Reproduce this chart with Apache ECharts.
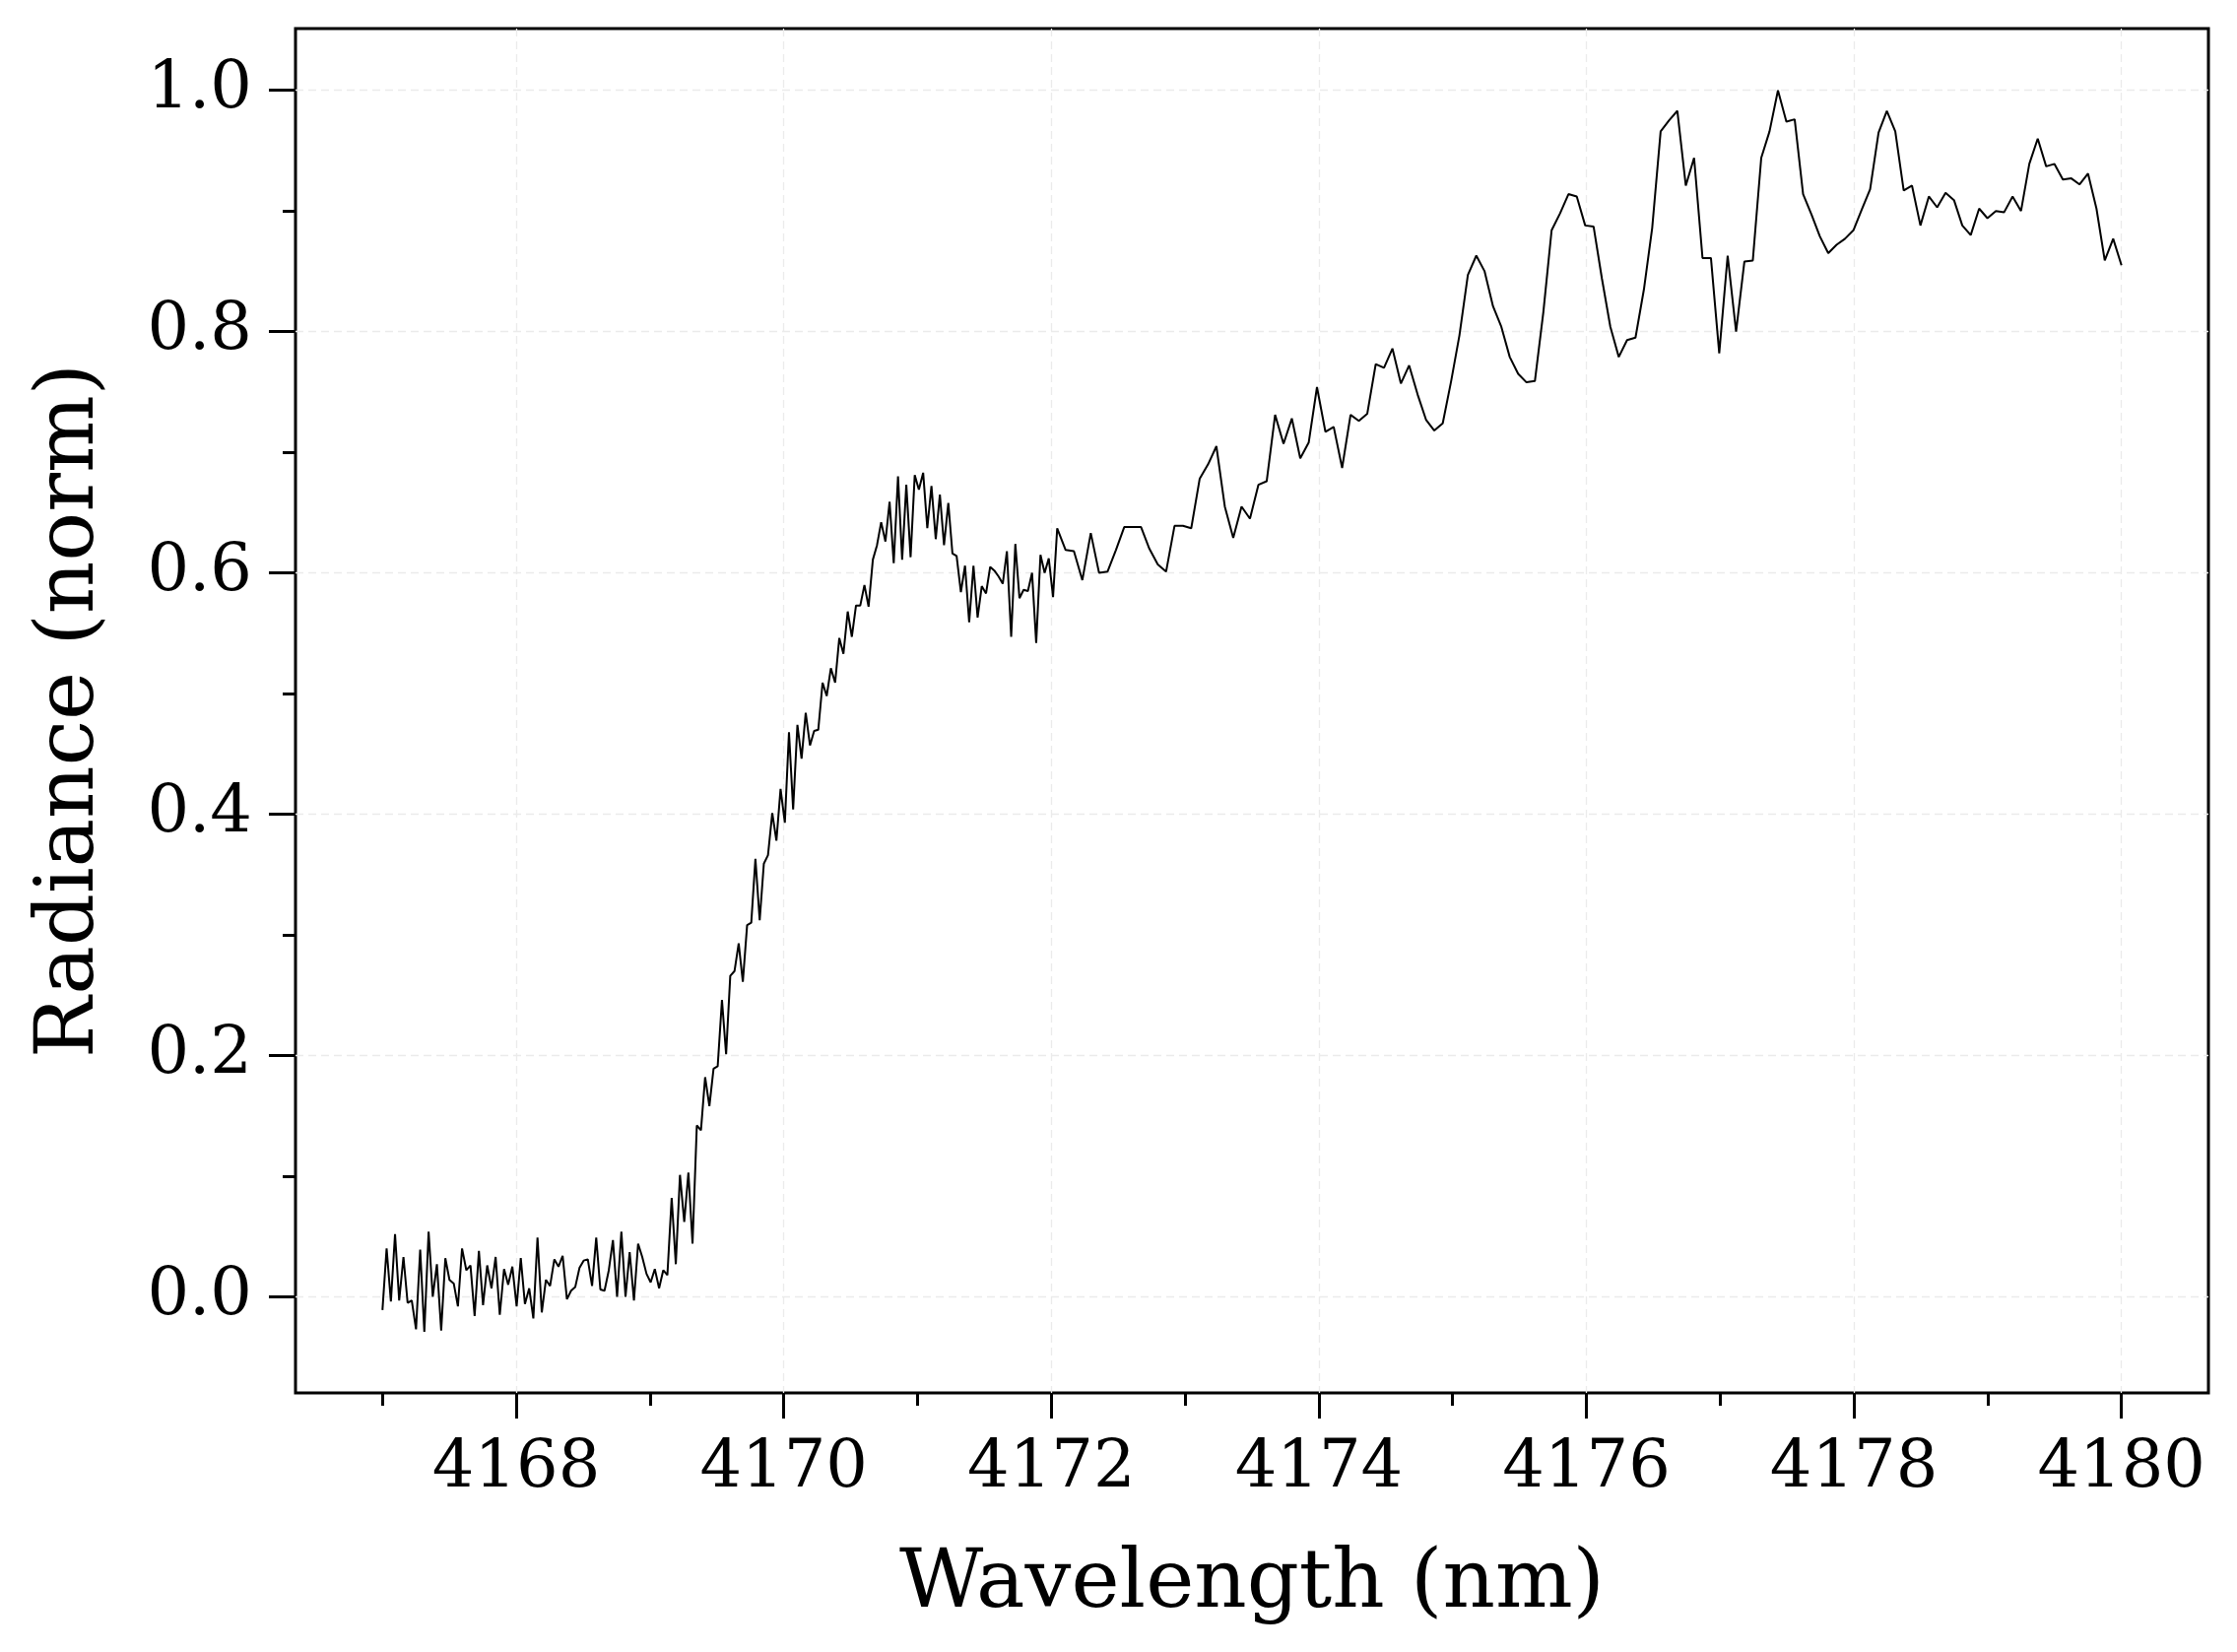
<!DOCTYPE html>
<html><head><meta charset="utf-8">
<script src="https://cdn.jsdelivr.net/npm/echarts@6/dist/echarts.min.js"></script>
<style>html,body{margin:0;padding:0;background:#fff}#c{width:2271px;height:1677px}</style>
</head><body><div id="c"></div>
<script>
const wavelength = [
4167.000,4167.031,4167.063,4167.094,4167.125,4167.157,4167.188,4167.219,4167.251,4167.282,
4167.313,4167.345,4167.376,4167.407,4167.439,4167.470,4167.501,4167.533,4167.564,4167.595,
4167.627,4167.658,4167.689,4167.721,4167.752,4167.783,4167.815,4167.846,4167.877,4167.909,
4167.940,4167.971,4168.003,4168.034,4168.065,4168.097,4168.128,4168.159,4168.191,4168.222,
4168.253,4168.285,4168.316,4168.347,4168.379,4168.410,4168.441,4168.473,4168.504,4168.535,
4168.567,4168.598,4168.629,4168.660,4168.692,4168.723,4168.754,4168.786,4168.817,4168.848,
4168.880,4168.911,4168.942,4168.974,4169.005,4169.036,4169.068,4169.099,4169.130,4169.162,
4169.193,4169.224,4169.256,4169.287,4169.318,4169.350,4169.381,4169.412,4169.444,4169.475,
4169.506,4169.538,4169.569,4169.600,4169.632,4169.663,4169.694,4169.726,4169.757,4169.788,
4169.820,4169.851,4169.882,4169.914,4169.945,4169.976,4170.008,4170.039,4170.070,4170.102,
4170.133,4170.164,4170.196,4170.227,4170.258,4170.290,4170.321,4170.352,4170.384,4170.415,
4170.446,4170.478,4170.509,4170.540,4170.572,4170.603,4170.634,4170.666,4170.697,4170.728,
4170.760,4170.791,4170.822,4170.854,4170.885,4170.916,4170.948,4170.979,4171.010,4171.042,
4171.073,4171.104,4171.136,4171.167,4171.198,4171.230,4171.261,4171.292,4171.324,4171.355,
4171.386,4171.418,4171.449,4171.480,4171.512,4171.543,4171.574,4171.606,4171.637,4171.668,
4171.700,4171.731,4171.762,4171.793,4171.825,4171.856,4171.887,4171.919,4171.950,4171.981,
4172.013,4172.044,
4172.107,4172.169,4172.232,4172.295,4172.357,4172.420,4172.483,4172.545,4172.608,4172.671,
4172.733,4172.796,4172.858,4172.921,4172.984,4173.046,4173.109,4173.172,4173.234,4173.297,
4173.360,4173.422,4173.485,4173.548,4173.610,4173.673,4173.736,4173.798,4173.861,4173.924,
4173.986,4174.049,4174.111,4174.174,4174.237,4174.299,4174.362,4174.425,4174.487,4174.550,
4174.613,4174.675,4174.738,4174.801,4174.863,4174.926,4174.989,4175.051,4175.114,4175.177,
4175.239,4175.302,4175.364,4175.427,4175.490,4175.552,4175.615,4175.678,4175.740,4175.803,
4175.866,4175.928,4175.991,4176.054,4176.116,4176.179,4176.242,4176.304,4176.367,4176.430,
4176.492,4176.555,4176.617,4176.680,4176.743,4176.805,4176.868,4176.931,4176.993,4177.056,
4177.119,4177.181,4177.244,4177.307,4177.369,4177.432,4177.495,4177.557,4177.620,4177.683,
4177.745,4177.808,4177.870,4177.933,4177.996,4178.058,4178.121,4178.184,4178.246,4178.309,
4178.372,4178.434,4178.497,4178.560,4178.622,4178.685,4178.748,4178.810,4178.873,4178.936,
4178.998,4179.061,4179.123,4179.186,4179.249,4179.311,4179.374,4179.437,4179.499,4179.562,
4179.625,4179.687,4179.750,4179.813,4179.875,4179.938,4180.000
];
const radiance = [
-0.011,0.040,-0.004,0.052,-0.003,0.033,-0.005,-0.003,-0.027,0.039,
-0.029,0.054,0.000,0.027,-0.028,0.032,0.014,0.011,-0.008,0.040,
0.022,0.026,-0.016,0.038,-0.007,0.026,0.007,0.033,-0.015,0.023,
0.010,0.025,-0.008,0.032,-0.006,0.007,-0.018,0.049,-0.013,0.014,
0.009,0.031,0.025,0.034,-0.002,0.005,0.008,0.024,0.030,0.031,
0.009,0.049,0.006,0.005,0.022,0.047,0.000,0.054,0.000,0.037,
-0.003,0.044,0.033,0.019,0.012,0.023,0.007,0.022,0.018,0.082,
0.027,0.101,0.062,0.103,
0.044,0.142,0.138,0.182,0.158,0.189,0.191,0.246,0.201,0.266,
0.270,0.293,0.261,0.308,0.310,
0.363,0.312,0.359,0.366,0.401,0.378,0.421,0.393,0.468,0.404,
0.474,0.446,0.484,0.457,0.469,0.470,0.509,0.498,0.521,0.509,
0.546,0.533,0.568,0.547,0.573,0.573,0.590,0.572,
0.611,0.623,0.642,0.626,0.659,0.608,0.680,0.611,0.673,0.613,
0.681,0.669,0.683,0.637,0.672,0.628,0.665,0.623,0.658,0.616,
0.614,0.584,0.606,0.559,0.606,0.563,0.589,0.583,0.605,0.602,
0.597,0.591,0.618,0.547,0.624,0.579,0.586,0.585,0.600,0.542,
0.615,0.600,0.612,0.580,0.637,
0.619,0.618,0.594,0.633,0.600,0.601,0.619,0.638,0.638,0.638,
0.620,0.607,0.601,0.639,0.639,0.637,0.678,0.690,0.705,0.655,
0.629,0.655,0.645,0.673,0.676,0.731,0.707,0.728,0.695,0.708,
0.754,0.717,0.721,0.687,0.731,0.726,0.732,0.773,0.770,0.786,
0.757,0.772,0.748,0.727,0.718,0.724,0.759,0.797,0.847,0.863,
0.850,0.821,0.804,0.779,0.765,0.758,0.759,0.816,0.884,0.898,
0.914,0.912,0.888,0.887,0.844,0.804,0.779,0.793,0.795,0.835,
0.886,0.966,0.975,0.983,0.921,0.944,0.861,0.861,0.782,0.863,
0.800,0.858,0.859,0.944,0.966,1.000,0.974,0.976,0.914,0.897,
0.879,0.865,0.872,0.877,0.884,0.901,0.918,0.965,0.983,0.966,
0.917,0.921,0.888,0.912,0.903,0.915,0.909,0.888,0.880,0.902,
0.894,0.900,0.899,0.912,0.900,0.939,0.960,0.937,0.939,0.926,
0.927,0.922,0.931,0.902,0.859,0.877,0.855
];
const xMajorTicks = [4168, 4170, 4172, 4174, 4176, 4178, 4180];
const xMinorTicks = [4167, 4169, 4171, 4173, 4175, 4177, 4179];
const yMajorTicks = [0, 0.2, 0.4, 0.6, 0.8, 1.0];
const yMinorTicks = [0.1, 0.3, 0.5, 0.7, 0.9];
const xTitle = 'Wavelength (nm)';
const yTitle = 'Radiance (norm)';
const xRange = [4166.35, 4180.65];
const yRange = [-0.0797, 1.0512];

const FONT = 'DejaVu Serif';
const points = wavelength.map((w, i) => [w, radiance[i]]);
const chart = echarts.init(document.getElementById('c'), null, {renderer: 'canvas', width: 2271, height: 1677});

const gridLine = {show: true, lineStyle: {color: '#ebebeb', width: 1.3, type: [8, 5]}};
const labelStyle = {color: '#000', fontFamily: FONT, fontSize: 67, lineHeight: 67};
const noLine = {show: false, onZero: false};

chart.setOption({
  animation: false,
  backgroundColor: '#fff',
  grid: {left: 300, top: 29, width: 1942, height: 1385, show: true, borderColor: '#000', borderWidth: 3, backgroundColor: 'transparent', containLabel: false},
  xAxis: [
    {
      type: 'value', position: 'bottom', min: xRange[0], max: xRange[1],
      name: xTitle, nameLocation: 'middle', nameGap: 154,
      nameTextStyle: {color: '#000', fontFamily: FONT, fontSize: 83, lineHeight: 83},
      axisLine: noLine,
      axisTick: {show: true, inside: false, length: 26, lineStyle: {color: '#000', width: 3}, customValues: xMajorTicks},
      axisLabel: Object.assign({show: true, margin: 44, customValues: xMajorTicks, formatter: v => String(Math.round(v))}, labelStyle),
      splitLine: gridLine
    },
    {
      type: 'value', position: 'bottom', min: xRange[0], max: xRange[1],
      axisLine: noLine,
      axisTick: {show: true, inside: false, length: 13, lineStyle: {color: '#000', width: 3}, customValues: xMinorTicks},
      axisLabel: {show: false},
      splitLine: {show: false}
    }
  ],
  yAxis: [
    {
      type: 'value', position: 'left', min: yRange[0], max: yRange[1],
      name: yTitle, nameLocation: 'middle', nameGap: 186, nameRotate: 90,
      nameTextStyle: {color: '#000', fontFamily: FONT, fontSize: 83, lineHeight: 83},
      axisLine: noLine,
      axisTick: {show: true, inside: false, length: 27, lineStyle: {color: '#000', width: 3}, customValues: yMajorTicks},
      axisLabel: Object.assign({show: true, margin: 44, customValues: yMajorTicks, formatter: v => Number(v).toFixed(1)}, labelStyle),
      splitLine: gridLine
    },
    {
      type: 'value', position: 'left', min: yRange[0], max: yRange[1],
      axisLine: noLine,
      axisTick: {show: true, inside: false, length: 13, lineStyle: {color: '#000', width: 3}, customValues: yMinorTicks},
      axisLabel: {show: false},
      splitLine: {show: false}
    }
  ],
  series: [{
    type: 'line', xAxisIndex: 0, yAxisIndex: 0, data: points,
    showSymbol: false, symbol: 'none', smooth: false,
    lineStyle: {color: '#000', width: 2}, z: 5
  }]
});
</script>
</body></html>
